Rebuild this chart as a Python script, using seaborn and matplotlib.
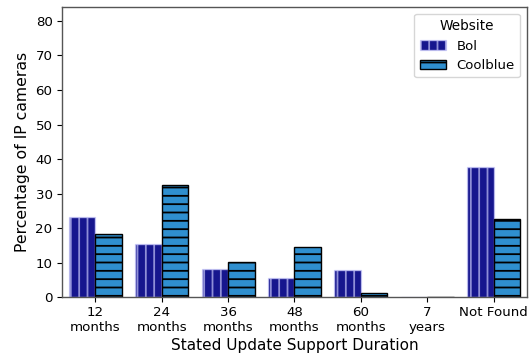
import matplotlib
matplotlib.use("Agg")
import matplotlib.pyplot as plt
import seaborn as sns
import pandas as pd

categories = ["12\nmonths", "24\nmonths", "36\nmonths", "48\nmonths", "60\nmonths", "7\nyears", "Not Found"]
bol = [23.2, 15.3, 8.1, 5.5, 7.8, 0, 37.7]
coolblue = [18.3, 32.5, 10.1, 14.6, 1.2, 0, 22.8]
websites = ["Bol", "Coolblue"]

df = pd.DataFrame({
    "Duration": categories * 2,
    "Percentage": bol + coolblue,
    "Website": ["Bol"] * len(categories) + ["Coolblue"] * len(categories),
})

plt.rcParams['font.family'] = ['DejaVu Sans']
plt.rcParams['hatch.linewidth'] = 1.3
fig, ax = plt.subplots(figsize=(5.32, 3.56), dpi=100)

palette = {"Bol": "#16168e", "Coolblue": "#2f8fcf"}
sns.barplot(data=df, x="Duration", y="Percentage", hue="Website", order=categories,
            hue_order=websites, palette=palette, saturation=1, ax=ax, width=0.8)

bol_edge = (0.82, 0.82, 1.0, 0.65)
n = len(categories)
for i, p in enumerate(ax.patches[:2 * n]):
    if i < n:
        p.set_hatch("||")
        p.set_edgecolor(bol_edge)
        p.set_linewidth(1.0)
    else:
        p.set_hatch("--")
        p.set_edgecolor("black")
        p.set_linewidth(1.0)

ax.set_ylim(0, 84)
ax.set_yticks(range(0, 81, 10))
ax.set_xlabel("Stated Update Support Duration", fontsize=11, labelpad=3)
ax.set_ylabel("Percentage of IP cameras", fontsize=11.3)
ax.tick_params(axis="both", labelsize=9.6)
ax.tick_params(axis="x", pad=2.5)
for lbl in ax.get_xticklabels():
    lbl.set_linespacing(1.2)
for s in ax.spines.values():
    s.set_edgecolor("#555555")
    s.set_linewidth(1.0)

handles, labels = ax.get_legend_handles_labels()
handles[0].set_hatch("||"); handles[0].set_edgecolor(bol_edge)
handles[1].set_hatch("--"); handles[1].set_edgecolor("black")
ax.legend(handles, labels, title="Website", loc="upper right", fontsize=9.5, title_fontsize=9.8)

fig.subplots_adjust(left=0.117, right=0.99, top=0.98, bottom=0.165)
fig.savefig("out.png", dpi=100)
